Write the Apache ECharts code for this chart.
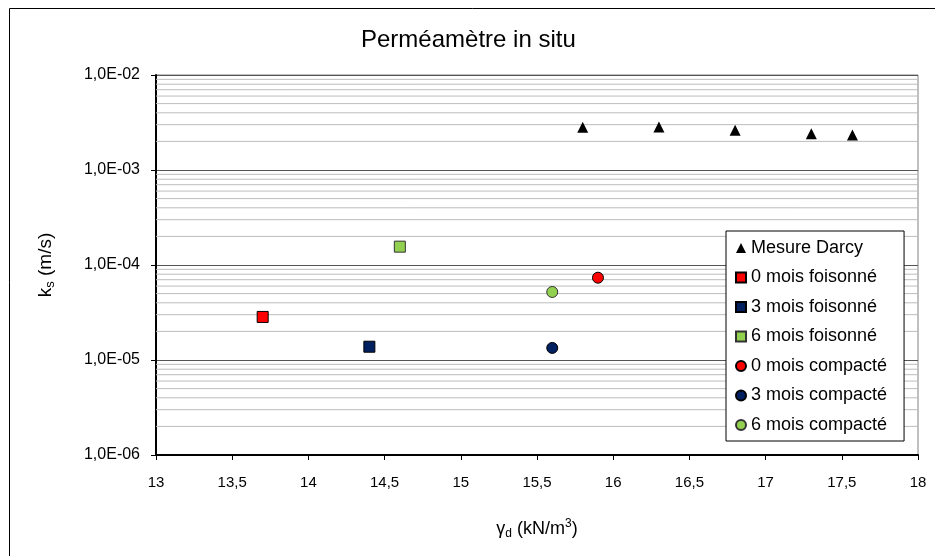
<!DOCTYPE html>
<html>
<head>
<meta charset="utf-8">
<script src="https://cdn.jsdelivr.net/npm/echarts@6/dist/echarts.min.js"></script>
<style>html,body{margin:0;padding:0;background:#fff;}#c{width:935px;height:556px;}</style>
</head>
<body>
<div id="c"></div>
<script>
// ---- data ----
const darcyX = [15.8, 16.3, 16.8, 17.3, 17.57];
const darcyY = [2.81e-3, 2.84e-3, 2.62e-3, 2.41e-3, 2.34e-3];
const fois0X = [13.7];  const fois0Y = [2.84e-5];
const fois3X = [14.4];  const fois3Y = [1.38e-5];
const fois6X = [14.6];  const fois6Y = [1.56e-4];
const comp0X = [15.9];  const comp0Y = [7.35e-5];
const comp3X = [15.6];  const comp3Y = [1.34e-5];
const comp6X = [15.6];  const comp6Y = [5.2e-5];
const seriesNames = ['Mesure Darcy','0 mois foisonné','3 mois foisonné','6 mois foisonné','0 mois compacté','3 mois compacté','6 mois compacté'];
const xTicks = [13, 13.5, 14, 14.5, 15, 15.5, 16, 16.5, 17, 17.5, 18];
const yDecades = [1e-6, 1e-5, 1e-4, 1e-3, 1e-2];
const minorMantissas = [2, 3, 4, 5, 6, 7, 8, 9];

function pairs(xs, ys){ return xs.map((x,i)=>[x, ys[i]]); }
const minorValues = [];
yDecades.slice(0, -1).forEach(d => minorMantissas.forEach(m => minorValues.push(m * d)));
const xMin = xTicks[0], xMax = xTicks[xTicks.length - 1];

function yFmt(v){
  const e = Math.round(Math.log10(v));
  return '1,0E' + (e < 0 ? '-' : '+') + String(Math.abs(e)).padStart(2, '0');
}
const FONT = "'Liberation Sans', Arial, sans-serif";

const chart = echarts.init(document.getElementById('c'), null, {renderer:'canvas'});
const mk = (name, data, symbol, color, border) => ({
  name, type:'scatter', data, symbol, symbolSize: 11,
  itemStyle:{color, borderColor: border, borderWidth: border ? 1 : 0, opacity:1},
  z: 5
});
const minorSeries = minorValues.map(v => ({
  name:'_minor', type:'line', data:[[xMin, v], [xMax, v]], symbol:'none', silent:true, z:1,
  lineStyle:{color:'#bdbdbd', width:1}, emphasis:{disabled:true}, tooltip:{show:false}
}));
chart.setOption({
  animation:false,
  backgroundColor:'#fff',
  title:{text:'Perméamètre in situ', left:356, top:23, textStyle:{fontFamily:FONT, fontSize:24, fontWeight:'normal', color:'#000'}},
  grid:{left:156, right:17, top:75, bottom:101, show:true, borderColor:'#808080', borderWidth:1, backgroundColor:'transparent'},
  legend:{
    orient:'vertical', left:726, top:231, width:178,
    backgroundColor:'#fff', borderColor:'#000', borderWidth:1,
    padding:[7, 17, 6, 9], itemGap:9.5, itemWidth:10, itemHeight:10,
    textStyle:{fontFamily:FONT, fontSize:18, color:'#000', lineHeight:20},
    data: seriesNames.map((n,i)=>({name:n, icon: i===0 ? 'triangle' : (i<4 ? 'rect' : 'circle')}))
  },
  xAxis:{
    type:'value', min:xMin, max:xMax, interval:0.5,
    name:'{g|γ}{sub|d}{n| (kN/m}{sup|3}{n|)}', nameLocation:'middle', nameGap:63,
    nameTextStyle:{color:'#000', fontFamily:FONT, rich:{
      g:{fontSize:18, fontFamily:FONT, color:'#000', lineHeight:22},
      n:{fontSize:18, fontFamily:FONT, color:'#000', lineHeight:22},
      sub:{fontSize:12, fontFamily:FONT, color:'#000', lineHeight:10, verticalAlign:'bottom'},
      sup:{fontSize:12, fontFamily:FONT, color:'#000', lineHeight:10, verticalAlign:'top'}
    }},
    axisLine:{show:true, onZero:false, lineStyle:{color:'#000', width:2}},
    axisTick:{show:true, inside:false, length:5, lineStyle:{color:'#000'}},
    axisLabel:{color:'#000', fontFamily:FONT, fontSize:15, margin:20, formatter:v=>String(v).replace('.', ',')},
    splitLine:{show:false}
  },
  yAxis:{
    type:'log', logBase:10, min:yDecades[0], max:yDecades[yDecades.length-1], splitNumber:4,
    name:'{n|k}{sub|s}{n| (m/s)}', nameLocation:'middle', nameRotate:90, nameGap:99,
    nameTextStyle:{color:'#000', fontFamily:FONT, rich:{
      n:{fontSize:19, fontFamily:FONT, color:'#000', lineHeight:22},
      sub:{fontSize:13, fontFamily:FONT, color:'#000', lineHeight:10, verticalAlign:'bottom'}
    }},
    axisLine:{show:true, lineStyle:{color:'#000', width:2}},
    axisTick:{show:true, inside:false, length:5, lineStyle:{color:'#000'}},
    axisLabel:{color:'#000', fontFamily:FONT, fontSize:16, margin:16, formatter:yFmt},
    splitLine:{show:true, lineStyle:{color:'#555', width:1}}
  },
  graphic:[{type:'rect', shape:{x:9.5, y:8.5, width:940, height:560}, style:{fill:'none', stroke:'#000', lineWidth:1}, silent:true, z:-1}],
  series: minorSeries.concat([
    mk(seriesNames[0], pairs(darcyX, darcyY), 'triangle', '#000', null),
    mk(seriesNames[1], pairs(fois0X, fois0Y), 'rect', '#FF0000', '#000'),
    mk(seriesNames[2], pairs(fois3X, fois3Y), 'rect', '#002060', '#000'),
    mk(seriesNames[3], pairs(fois6X, fois6Y), 'rect', '#92D050', '#333'),
    mk(seriesNames[4], pairs(comp0X, comp0Y), 'circle', '#FF0000', '#000'),
    mk(seriesNames[5], pairs(comp3X, comp3Y), 'circle', '#002060', '#000'),
    mk(seriesNames[6], pairs(comp6X, comp6Y), 'circle', '#92D050', '#333')
  ])
});
</script>
</body>
</html>
